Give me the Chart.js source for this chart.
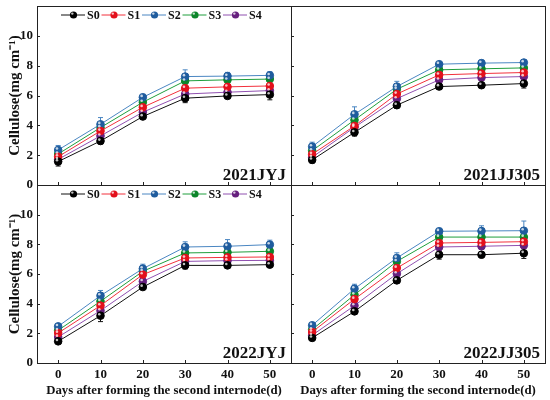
<!DOCTYPE html>
<html>
<head>
<meta charset="utf-8">
<script src="https://cdn.jsdelivr.net/npm/chart.js@4.4.0/dist/chart.umd.min.js"></script>
<style>
html, body { margin: 0; padding: 0; background: #fff; }
#wrap { position: relative; width: 550px; height: 400px; }
#wrap canvas { position: absolute; left: 0; top: 0; }
</style>
</head>
<body>
<div id="wrap">
  <canvas id="c0" width="550" height="400"></canvas>
  <canvas id="c1" width="550" height="400"></canvas>
  <canvas id="c2" width="550" height="400"></canvas>
  <canvas id="c3" width="550" height="400"></canvas>
</div>
<script>
const days = [0, 10, 20, 30, 40, 50];
const xTicks = [0, 10, 20, 30, 40, 50];
const yTicks = [0, 2, 4, 6, 8, 10, 12];
const seriesNames = ['S0', 'S1', 'S2', 'S3', 'S4'];
const lineColors = ['#111111', '#f2303c', '#4a86c2', '#1e9e3c', '#9050b0'];
const dotColors = ['#000000', '#e3101c', '#1f5c9e', '#0c862a', '#66207e'];
const panelNames = ['2021JYJ', '2021JJ305', '2022JYJ', '2022JJ305'];

// rows = S0..S4
const jyj2021 = [
  [1.57, 2.95, 4.59, 5.82, 5.97, 6.06],
  [1.90, 3.62, 5.21, 6.49, 6.58, 6.64],
  [2.35, 4.07, 5.88, 7.27, 7.30, 7.35],
  [2.08, 3.85, 5.55, 6.98, 7.05, 7.10],
  [1.72, 3.29, 4.88, 6.10, 6.22, 6.33]
];
const jyj2021Err = [
  [0.30, 0.20, 0.15, 0.30, 0.15, 0.35],
  [0.20, 0.20, 0.15, 0.20, 0.15, 0.15],
  [0.30, 0.45, 0.20, 0.45, 0.25, 0.25],
  [0.20, 0.20, 0.15, 0.20, 0.20, 0.20],
  [0.20, 0.20, 0.15, 0.20, 0.15, 0.20]
];
const jj2021 = [
  [1.68, 3.53, 5.35, 6.60, 6.69, 6.80],
  [2.06, 3.96, 6.10, 7.38, 7.47, 7.54],
  [2.57, 4.74, 6.60, 8.10, 8.17, 8.21],
  [2.30, 4.36, 6.42, 7.72, 7.79, 7.85],
  [1.86, 3.87, 5.79, 7.05, 7.20, 7.27]
];
const jj2021Err = [
  [0.20, 0.25, 0.20, 0.20, 0.15, 0.30],
  [0.20, 0.20, 0.20, 0.20, 0.20, 0.20],
  [0.30, 0.50, 0.35, 0.15, 0.20, 0.20],
  [0.20, 0.20, 0.20, 0.20, 0.20, 0.20],
  [0.20, 0.20, 0.20, 0.20, 0.20, 0.20]
];
const jyj2022 = [
  [1.46, 3.19, 5.12, 6.58, 6.58, 6.63],
  [2.02, 3.87, 5.96, 7.08, 7.12, 7.15],
  [2.47, 4.54, 6.36, 7.82, 7.87, 7.98],
  [2.20, 4.16, 6.18, 7.42, 7.46, 7.53],
  [1.75, 3.53, 5.50, 6.85, 6.90, 6.92]
];
const jyj2022Err = [
  [0.15, 0.40, 0.15, 0.25, 0.15, 0.15],
  [0.20, 0.20, 0.20, 0.20, 0.20, 0.20],
  [0.15, 0.35, 0.30, 0.35, 0.45, 0.30],
  [0.20, 0.20, 0.20, 0.20, 0.20, 0.20],
  [0.20, 0.20, 0.20, 0.20, 0.20, 0.20]
];
const jj2022 = [
  [1.69, 3.48, 5.57, 7.30, 7.30, 7.40],
  [2.09, 4.31, 6.40, 8.09, 8.13, 8.18],
  [2.54, 5.01, 7.08, 8.88, 8.90, 8.92],
  [2.25, 4.60, 6.85, 8.49, 8.49, 8.49],
  [1.87, 3.87, 6.02, 7.82, 7.87, 7.93]
];
const jj2022Err = [
  [0.15, 0.20, 0.20, 0.30, 0.20, 0.35],
  [0.20, 0.20, 0.20, 0.20, 0.20, 0.20],
  [0.20, 0.30, 0.35, 0.20, 0.35, 0.65],
  [0.20, 0.20, 0.20, 0.20, 0.20, 0.20],
  [0.20, 0.20, 0.20, 0.20, 0.20, 0.20]
];

const FONT = "'Liberation Serif', 'Times New Roman', serif";

function makePanel(id, name, values, errors, isLeft, isTop) {
  const datasets = values.map((row, i) => ({
    label: seriesNames[i],
    data: row.map((v, j) => ({ x: days[j], y: v })),
    borderColor: lineColors[i],
    borderWidth: 1,
    pointRadius: 3.8,
    pointBackgroundColor: dotColors[i],
    pointBorderColor: dotColors[i],
    pointBorderWidth: 1,
    tension: 0
  }));

  // error bars under the markers
  const errBars = {
    id: 'errBars',
    beforeDatasetsDraw(chart) {
      const ctx = chart.ctx, xs = chart.scales.x, ys = chart.scales.y;
      ctx.save();
      ctx.lineWidth = 1;
      values.forEach((row, i) => {
        ctx.strokeStyle = lineColors[i];
        row.forEach((v, j) => {
          const x = xs.getPixelForValue(days[j]);
          const y1 = ys.getPixelForValue(v + errors[i][j]);
          const y2 = ys.getPixelForValue(v - errors[i][j]);
          ctx.beginPath();
          ctx.moveTo(x, y1); ctx.lineTo(x, y2);
          ctx.moveTo(x - 2.5, y1); ctx.lineTo(x + 2.5, y1);
          ctx.moveTo(x - 2.5, y2); ctx.lineTo(x + 2.5, y2);
          ctx.stroke();
        });
      });
      ctx.restore();
    },
    afterDatasetsDraw(chart) {
      // little shine on the balls
      const ctx = chart.ctx;
      ctx.save();
      ctx.fillStyle = 'rgba(255,255,255,0.75)';
      chart.data.datasets.forEach((ds, i) => {
        chart.getDatasetMeta(i).data.forEach(pt => {
          ctx.beginPath();
          ctx.arc(pt.x - 1.2, pt.y - 1.4, 1.3, 0, Math.PI * 2);
          ctx.fill();
        });
      });
      ctx.restore();
    }
  };

  const frame = {
    id: 'frame',
    afterDraw(chart) {
      const ctx = chart.ctx, a = chart.chartArea;
      const xs = chart.scales.x, ys = chart.scales.y;
      ctx.save();
      ctx.strokeStyle = '#222';
      ctx.lineWidth = 1;
      ctx.strokeRect(Math.round(a.left) + 0.5, Math.round(a.top) + 0.5,
        Math.round(a.right - a.left), Math.round(a.bottom - a.top));
      ctx.beginPath();
      xTicks.forEach(v => {
        const x = Math.round(xs.getPixelForValue(v)) + 0.5;
        ctx.moveTo(x, a.bottom); ctx.lineTo(x, a.bottom - 3);
      });
      yTicks.forEach(v => {
        const y = Math.round(ys.getPixelForValue(v)) + 0.5;
        ctx.moveTo(a.left, y); ctx.lineTo(a.left + 3, y);
      });
      ctx.stroke();

      // panel name
      ctx.fillStyle = '#111';
      ctx.font = 'bold 17px ' + FONT;
      ctx.textAlign = 'right';
      ctx.textBaseline = 'alphabetic';
      ctx.fillText(name, a.right - 5, a.bottom - 5);

      // legend only on the left panels
      if (isLeft) {
        const cy = a.top + 9;
        ctx.font = 'bold 12px ' + FONT;
        ctx.textAlign = 'left';
        ctx.textBaseline = 'middle';
        seriesNames.forEach((s, k) => {
          const x0 = a.left + 24 + k * 40.5;
          ctx.strokeStyle = lineColors[k];
          ctx.beginPath();
          ctx.moveTo(x0, cy); ctx.lineTo(x0 + 24, cy);
          ctx.stroke();
          ctx.fillStyle = dotColors[k];
          ctx.beginPath();
          ctx.arc(x0 + 12.5, cy, 3.6, 0, Math.PI * 2);
          ctx.fill();
          ctx.fillStyle = 'rgba(255,255,255,0.75)';
          ctx.beginPath();
          ctx.arc(x0 + 11.3, cy - 1.4, 1.2, 0, Math.PI * 2);
          ctx.fill();
          ctx.fillStyle = '#111';
          ctx.fillText(s, x0 + 26, cy + 0.5);
        });
      }
      ctx.restore();
    }
  };

  return new Chart(document.getElementById(id), {
    type: 'line',
    data: { datasets: datasets },
    plugins: [errBars, frame],
    options: {
      responsive: false,
      animation: false,
      layout: {
        padding: {
          left: isLeft ? 0 : 291,
          right: isLeft ? 259 : 2,
          top: isTop ? 6 : 185,
          bottom: isTop ? 215 : 0
        }
      },
      plugins: { legend: { display: false }, tooltip: { enabled: false } },
      scales: {
        x: {
          type: 'linear',
          min: -5,
          max: 55,
          afterBuildTicks: s => { s.ticks = xTicks.map(v => ({ value: v })); },
          afterFit: s => {
            s.height = isTop ? 0 : 37;
            s.paddingLeft = 0; s.paddingRight = 0;
          },
          grid: { display: false, drawTicks: false },
          border: { display: false },
          ticks: {
            display: !isTop,
            padding: 4,
            color: '#111',
            font: { family: FONT, size: 13, weight: 'bold' }
          },
          title: {
            display: !isTop,
            text: 'Days after forming the second internode(d)',
            color: '#111',
            padding: { top: 0, bottom: 2 },
            font: { family: FONT, size: 12.8, weight: 'bold' }
          }
        },
        y: {
          min: 0,
          max: 12,
          afterBuildTicks: s => { s.ticks = yTicks.map(v => ({ value: v })); },
          afterFit: s => {
            s.width = isLeft ? 37 : 0;
            s.paddingTop = 0; s.paddingBottom = 0;
          },
          grid: { display: false, drawTicks: false },
          border: { display: false },
          ticks: {
            display: isLeft,
            padding: 4,
            color: '#111',
            font: { family: FONT, size: 13, weight: 'bold' },
            callback: v => (v === 12 ? '' : v)
          },
          title: {
            display: isLeft,
            text: 'Cellulose(mg cm⁻¹)',
            color: '#111',
            padding: { top: 6, bottom: 0 },
            font: { family: FONT, size: 15, weight: 'bold' }
          }
        }
      }
    }
  });
}

makePanel('c0', panelNames[0], jyj2021, jyj2021Err, true, true);
makePanel('c1', panelNames[1], jj2021, jj2021Err, false, true);
makePanel('c2', panelNames[2], jyj2022, jyj2022Err, true, false);
makePanel('c3', panelNames[3], jj2022, jj2022Err, false, false);
</script>
</body>
</html>
